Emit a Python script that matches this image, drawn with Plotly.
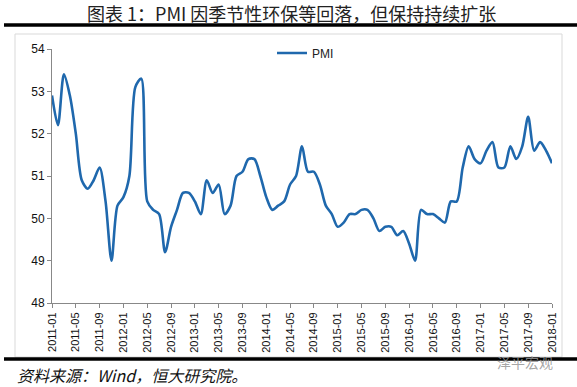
import plotly.graph_objects as go

months = [f"{y}-{m:02d}" for y in range(2011, 2018) for m in range(1, 13)] + ["2018-01"]
pmi = [
    52.9, 52.2, 53.4, 52.9, 52.0, 50.9, 50.7, 50.9, 51.2, 50.4, 49.0, 50.3,
    50.5, 51.0, 53.1, 53.3, 50.4, 50.2, 50.1, 49.2, 49.8, 50.2, 50.6, 50.6,
    50.4, 50.1, 50.9, 50.6, 50.8, 50.1, 50.3, 51.0, 51.1, 51.4, 51.4, 51.0,
    50.5, 50.2, 50.3, 50.4, 50.8, 51.0, 51.7, 51.1, 51.1, 50.8, 50.3, 50.1,
    49.8, 49.9, 50.1, 50.1, 50.2, 50.2, 50.0, 49.7, 49.8, 49.8, 49.6, 49.7,
    49.4, 49.0, 50.2, 50.1, 50.1, 50.0, 49.9, 50.4, 50.4, 51.2, 51.7, 51.4,
    51.3, 51.6, 51.8, 51.2, 51.2, 51.7, 51.4, 51.7, 52.4, 51.6, 51.8, 51.6,
    51.3,
]
tick_labels = months[::4]
y_ticks = [48, 49, 50, 51, 52, 53, 54]

idx = list(range(len(months)))

fig = go.Figure()
fig.add_trace(go.Scatter(
    x=idx, y=pmi, mode="lines", name="PMI",
    line=dict(color="#1f68ad", width=2.6, shape="spline", smoothing=0.8),
))

W, H = 577, 387
L, R, T, B = 52, 25, 4, 84
PLOT_TOP = 49
pw, ph = W - L - R, H - T - B

def px(x):
    return (x - L) / pw

def py(y):
    return (H - B - y) / ph

fig.update_layout(
    width=W, height=H,
    margin=dict(l=L, r=R, t=T, b=B, autoexpand=False),
    paper_bgcolor="white", plot_bgcolor="white",
    showlegend=True,
    legend=dict(x=px(272), y=py(53), xanchor="left", yanchor="middle",
                font=dict(family="Liberation Sans, Arial", size=12, color="#222"),
                bgcolor="rgba(0,0,0,0)"),
    xaxis=dict(
        range=[0, len(months) - 1], automargin=False,
        tickmode="array", tickvals=idx[::4], ticktext=tick_labels,
        tickangle=-90, ticks="outside", ticklen=4, tickcolor="#888",
        showline=True, linecolor="#888", linewidth=1, showgrid=False, zeroline=False,
        tickfont=dict(family="Liberation Sans, Arial", size=11, color="#111"),
    ),
    yaxis=dict(
        range=[48, 54], tickmode="array", tickvals=y_ticks, automargin=False,
        domain=[0, py(PLOT_TOP)],
        ticks="outside", ticklen=4, tickcolor="#888",
        showline=True, linecolor="#888", linewidth=1, showgrid=False, zeroline=False,
        tickfont=dict(family="Liberation Sans, Arial", size=12, color="#111"),
    ),
    shapes=[
        dict(type="rect", xref="paper", yref="paper",
             x0=px(15), x1=px(562), y0=py(357), y1=py(34),
             line=dict(color="#d9d9d9", width=1), layer="below"),
        dict(type="line", xref="paper", yref="paper",
             x0=px(4), x1=px(577), y0=py(25), y1=py(25),
             line=dict(color="black", width=3.5)),
        dict(type="line", xref="paper", yref="paper",
             x0=px(4), x1=px(577), y0=py(359), y1=py(359),
             line=dict(color="black", width=3.5)),
    ],
    annotations=[
        dict(text="图表 1：PMI 因季节性环保等回落，但保持持续扩张",
             xref="paper", yref="paper", x=px(291), y=py(13),
             xanchor="center", yanchor="middle", showarrow=False,
             font=dict(family="Noto Sans CJK SC", size=18, color="#222")),
        dict(text="<i>资料来源：Wind，恒大研究院。</i>",
             xref="paper", yref="paper", x=px(15), y=py(375),
             xanchor="left", yanchor="middle", showarrow=False,
             font=dict(family="Noto Sans CJK SC", size=16, color="#111")),
        dict(text="泽平宏观",
             xref="paper", yref="paper", x=px(555), y=py(362),
             xanchor="right", yanchor="middle", showarrow=False,
             font=dict(family="Noto Sans CJK SC", size=14, color="rgba(150,150,150,0.85)")),
    ],
)

fig.write_html("out.html", config={"displayModeBar": False},
               post_script="document.body.style.margin='0';document.body.style.overflow='hidden';")
